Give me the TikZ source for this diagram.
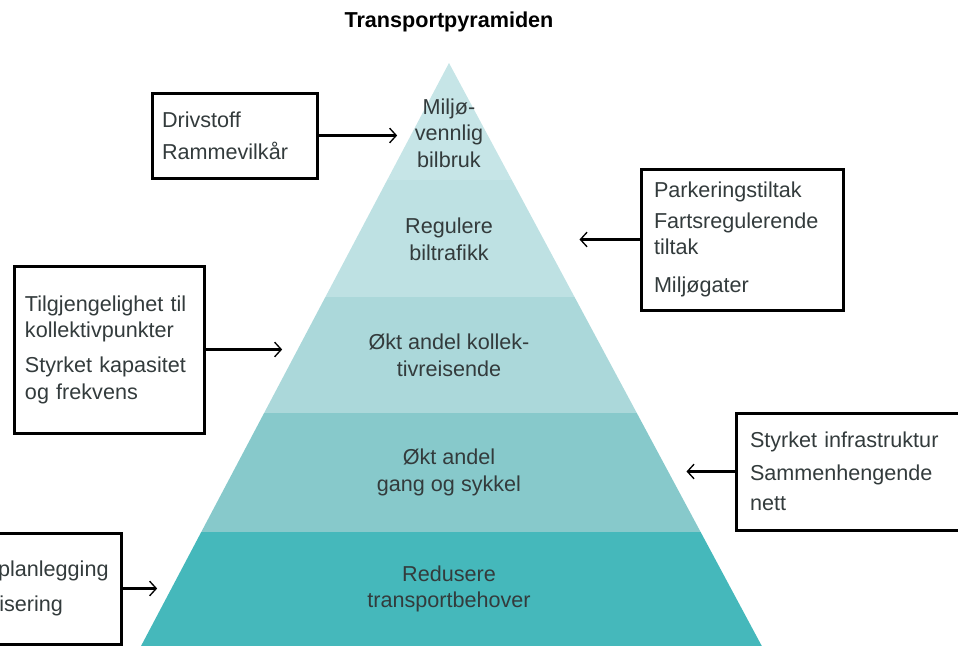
\documentclass[tikz,border=0pt]{standalone}
\usepackage{fontspec}
\setmainfont{Liberation Sans}
\usepackage{xcolor}
\usetikzlibrary{positioning, arrows.meta}

\definecolor{band1}{HTML}{C6E5E7}
\definecolor{band2}{HTML}{BEE1E3}
\definecolor{band3}{HTML}{ABD8DA}
\definecolor{band4}{HTML}{87C9CB}
\definecolor{band5}{HTML}{45B8BB}
\definecolor{inktext}{HTML}{333B3C}

\begin{document}
\begin{tikzpicture}[
            x=0.75pt, y=-0.75pt,
            font=\fontsize{16.2}{20}\selectfont,
            infobox/.style={rectangle, draw=black, line width=2.25pt, inner xsep=0pt, align=left, text=inktext},
            tier/.style={align=center, text=inktext},
            pointer/.style={-{Straight Barb[length=5pt, width=11pt, line width=1pt]}, line width=2pt}
        ]

        \useasboundingbox (0,0) rectangle (958,646);
        \clip (0,0) rectangle (958,646);

        % pyramid
        \coordinate (apex) at (449,63);
        \coordinate (baseL) at (131,665);
        \coordinate (baseR) at (772,665);
        \begin{scope}
            \clip (apex) -- (baseR) -- (baseL) -- cycle;
            \fill[band1] (0,0) rectangle (958,180);
            \fill[band2] (0,180) rectangle (958,297);
            \fill[band3] (0,297) rectangle (958,413);
            \fill[band4] (0,413) rectangle (958,532);
            \fill[band5] (0,532) rectangle (958,665);
        \end{scope}

        \node[anchor=base, font=\fontsize{16.2}{20}\selectfont\bfseries] (title) at (449,27) {Transportpyramiden};

        \node[tier] (tier1) at (449,133) {Miljø-\\vennlig\\bilbruk};
        \node[tier] (tier2) at (449,239) {Regulere\\biltrafikk};
        \node[tier] (tier3) at (449,355.5) {Økt andel kollek-\\tivreisende};
        \node[tier] (tier4) at (449,472.5) {Økt andel\\gang og sykkel};
        \node[tier] (tier5) at (449,589) {Redusere\\transportbehover};

        \node[infobox, minimum width=123.75pt, minimum height=63.75pt, text width=108.75pt] (boxA) at (234.5,135.5) {Drivstoff\\[4pt]Rammevilkår};
        \node[infobox, minimum width=151.5pt, minimum height=105.75pt, text width=132pt] (boxB) at (742,239.5) {Parkeringstiltak\\[3pt]Fartsregulerende\\tiltak\\[8.5pt]Miljøgater};
        \node[infobox, minimum width=142.5pt, minimum height=125.25pt, text width=126pt] (boxC) at (109,349.5) {Tilgjengelighet til\\kollektivpunkter\\[6pt]Styrket kapasitet\\og frekvens};
        \node[infobox, minimum width=174pt, minimum height=87.75pt, text width=153pt] (boxD) at (852,471.5) {Styrket infrastruktur\\[5pt]Sammenhengende\\[2.5pt]nett};
        \node[infobox, minimum width=138pt, minimum height=83.25pt, text width=122pt] (boxE) at (29,588.5) {Arealplanlegging\\[6pt]Lokalisering};

        \coordinate[right=59pt of boxA.east] (tipA);
        \coordinate[left=45pt of boxB.west] (tipB);
        \coordinate[right=57.5pt of boxC.east] (tipC);
        \coordinate[left=36pt of boxD.west] (tipD);
        \coordinate[right=26pt of boxE.east] (tipE);

        \draw[pointer] (boxA.east) -- (tipA);
        \draw[pointer] (boxB.west) -- (tipB);
        \draw[pointer] (boxC.east) -- (tipC);
        \draw[pointer] (boxD.west) -- (tipD);
        \draw[pointer] (boxE.east) -- (tipE);

    \end{tikzpicture}
\end{document}
